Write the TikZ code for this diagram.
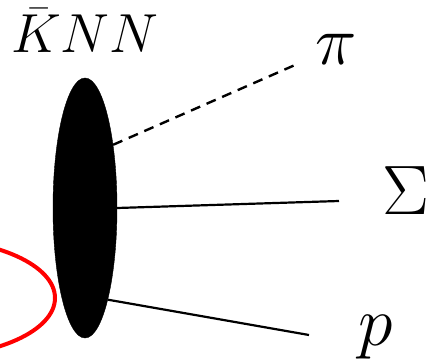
\RequirePackage{fix-cm}
\documentclass[tikz,border=0pt]{standalone}
\usetikzlibrary{shapes.geometric,positioning}

\begin{document}
\begin{tikzpicture}[
    x=1pt, y=1pt,
    blob/.style={draw, fill=black, ellipse, inner sep=0pt, minimum width=64pt, minimum height=260pt},
    leg/.style={line width=2.2pt},
    dashleg/.style={line width=2.4pt, dash pattern=on 10pt off 7pt},
    lbl/.style={inner sep=0pt, anchor=base west, font=\fontsize{70}{84}\selectfont},
    top/.style={inner sep=0pt, anchor=base west, font=\fontsize{55}{66}\selectfont}
  ]
  \useasboundingbox (0,0) rectangle (430,-363);
  % loop on the left
  \draw[red, line width=4pt] (-75,-298) ellipse [x radius=130, y radius=59];
  \node[blob] (knn) at (85,-208) {};
  \node[top] (name) at (11,-53) {$\bar{K}NN$};
  % free ends of the legs
  \coordinate (piend) at (295,-65);
  \coordinate (sigend) at (339,-201);
  \coordinate (pend) at (309,-335);
  \node[lbl] (pi) at (315,-65) {$\pi$};
  \node[lbl] (sig) at (382,-214) {$\Sigma$};
  \node[lbl] (prot) at (358,-345) {$p$};
  \draw[dashleg] (knn.66.5) -- (piend);
  \draw[leg] (knn.0) -- (sigend);
  \draw[leg] (knn.-76) -- (pend);
\end{tikzpicture}
\end{document}
